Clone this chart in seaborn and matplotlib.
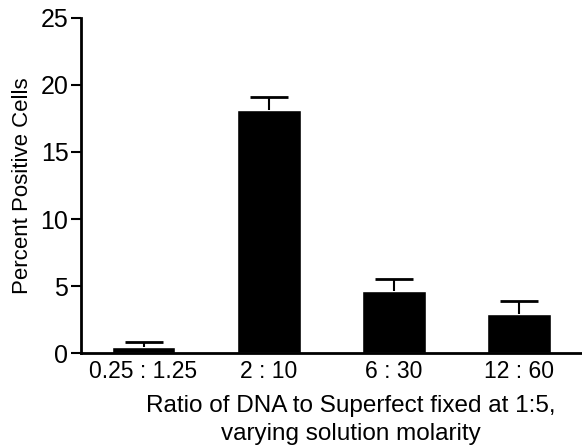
import matplotlib
matplotlib.use('Agg')
import matplotlib.pyplot as plt
import seaborn as sns
import pandas as pd

# data
ratios = ['0.25 : 1.25', '2 : 10', '6 : 30', '12 : 60']
percent_positive = [0.43, 18.1, 4.6, 2.9]
error_up = [0.37, 1.0, 0.9, 1.0]

df = pd.DataFrame({'ratio': ratios, 'percent': percent_positive})

sns.set_theme(style='ticks')
plt.rcParams['font.family'] = ['Liberation Sans', 'DejaVu Sans']
plt.rcParams['text.color'] = 'black'
plt.rcParams['axes.labelcolor'] = 'black'
plt.rcParams['xtick.color'] = 'black'
plt.rcParams['ytick.color'] = 'black'

fig = plt.figure(figsize=(5.82, 4.47), dpi=100)
ax = fig.add_axes([0.139, 0.21, 0.861, 0.75])

sns.barplot(data=df, x='ratio', y='percent', color='black', width=0.51,
            saturation=1, errorbar=None, ax=ax)
eb = ax.errorbar(range(len(ratios)), percent_positive,
                 yerr=[[0] * len(ratios), error_up], fmt='none',
                 ecolor='black', elinewidth=1.5, capsize=14, capthick=2)
# only the upper caps, like the original figure
eb[1][0].set_visible(False)

ax.set_xlim(-0.5, 3.5)
ax.set_ylim(0, 25)
ax.set_yticks([0, 5, 10, 15, 20, 25])
ax.set_ylabel('Percent Positive Cells', fontsize=16)
ax.yaxis.set_label_coords(-0.095, 0.5)
ax.set_xlabel('Ratio of DNA to Superfect fixed at 1:5,\nvarying solution molarity',
              fontsize=17.5, linespacing=1.35)
ax.xaxis.set_label_coords(0.539, -0.125)
ax.xaxis.get_label().set_va('top')

ax.tick_params(axis='y', length=7, width=1.5, labelsize=18, pad=2)
ax.tick_params(axis='x', length=0, labelsize=16.5, pad=5)

for s in ['top', 'right']:
    ax.spines[s].set_visible(False)
for s in ['left', 'bottom']:
    ax.spines[s].set_linewidth(2)
    ax.spines[s].set_color('black')

fig.savefig('out.png', dpi=100)
